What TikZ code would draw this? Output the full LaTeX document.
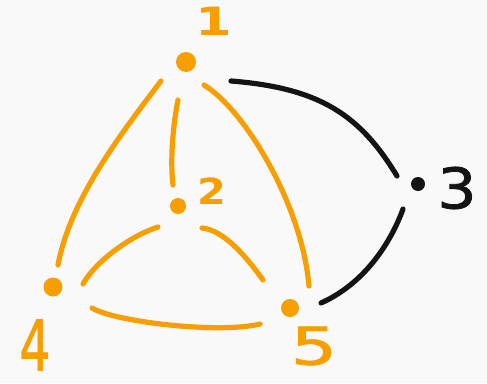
\documentclass[tikz,border=0pt]{standalone}
\usepackage{fontspec}
\newfontfamily\digitfont{DejaVu Sans}
\newfontfamily\digitfontm[FakeBold=1.3]{DejaVu Sans}
\definecolor{bg}{RGB}{249,249,249}
\definecolor{orng}{RGB}{247,159,0}
\definecolor{ink}{RGB}{20,20,20}
\begin{document}
\begin{tikzpicture}[x=1pt,y=-1pt,
  edge/.style={line width=5.2pt,line cap=round},
  dot/.style={circle,fill,inner sep=0pt,minimum size=#1},
  lbl/.style={inner sep=0pt,anchor=center}]
\fill[bg] (0,0) rectangle (487,383);
\useasboundingbox (0,0) rectangle (487,383);
% dots
\node[dot=20pt,orng] (n1) at (186,62) {};
\node[dot=16pt,orng] (n2) at (178,206) {};
\node[dot=14pt,ink]  (n3) at (418,184) {};
\node[dot=19pt,orng] (n4) at (53,287) {};
\node[dot=18pt,orng] (n5) at (290,308) {};
% labels
\node[lbl,orng,font=\digitfont\bfseries\fontsize{39}{39}\selectfont] (l1) at (214,21) {\scalebox{1.35}[1]{1}};
\node[lbl,orng,font=\digitfont\bfseries\fontsize{36}{36}\selectfont] (l2) at (212,191) {\scalebox{1.15}[1]{2}};
\node[lbl,ink,font=\digitfontm\fontsize{56}{56}\selectfont] (l3) at (457,188) {\scalebox{1.1}[1]{3}};
\node[lbl,orng,font=\digitfontm\fontsize{70}{70}\selectfont] (l4) at (35,345) {\scalebox{0.7}[1]{4}};
\node[lbl,orng,font=\digitfontm\fontsize{52}{52}\selectfont] (l5) at (314,346) {\scalebox{1.4}[1]{5}};
% orange edges
\draw[edge,orng] ([shift={(-25,19)}]n1.center) .. controls (120,135) and (70,200) .. ([shift={(5,-22)}]n4.center);
\draw[edge,orng] ([shift={(-8,38)}]n1.center) .. controls (173,125) and (170,160) .. ([shift={(-5,-21)}]n2.center);
\draw[edge,orng] ([shift={(18,23)}]n1.center) .. controls (245,110) and (302,205) .. ([shift={(19,-22)}]n5.center);
\draw[edge,orng] ([shift={(-20,21)}]n2.center) .. controls (130,236) and (95,262) .. ([shift={(30,-3)}]n4.center);
\draw[edge,orng] ([shift={(24,22)}]n2.center) .. controls (222,230) and (243,252) .. ([shift={(-27,-28)}]n5.center);
\draw[edge,orng] ([shift={(39,21)}]n4.center) .. controls (115,322) and (220,334) .. ([shift={(-30,16)}]n5.center);
% black edges
\draw[edge,ink] ([shift={(45,19)}]n1.center) .. controls (320,88) and (360,115) .. ([shift={(-21,-8)}]n3.center);
\draw[edge,ink] ([shift={(-15,25)}]n3.center) .. controls (393,237) and (368,282) .. ([shift={(31,-5)}]n5.center);
\end{tikzpicture}
\end{document}
